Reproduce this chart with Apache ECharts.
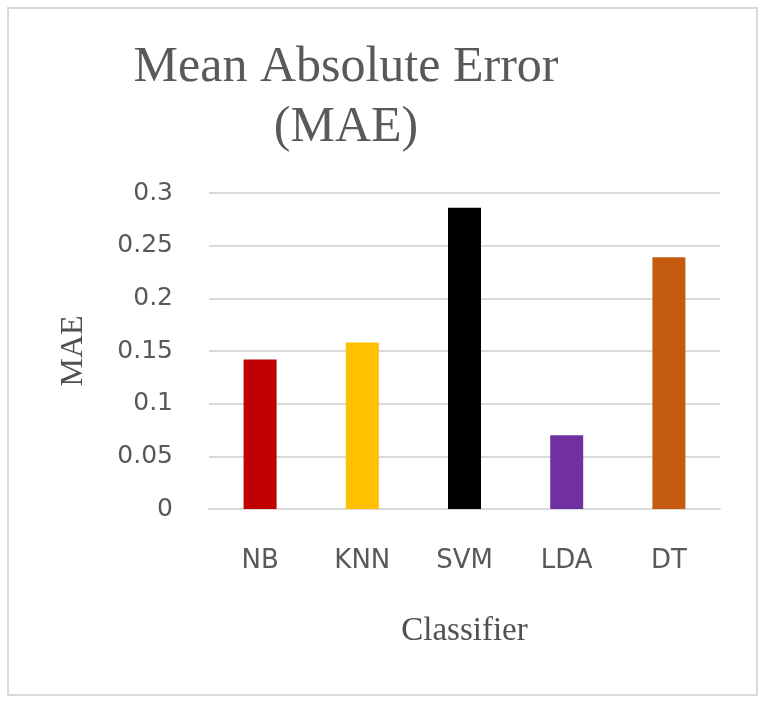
<!DOCTYPE html>
<html><head><meta charset="utf-8">
<script src="https://cdn.jsdelivr.net/npm/echarts@6/dist/echarts.min.js"></script>
<style>html,body{margin:0;padding:0;background:#fff}#c{width:768px;height:703px}</style>
</head><body><div id="c"></div>
<script>
const categories = ["NB", "KNN", "SVM", "LDA", "DT"];
const maeValues = [0.142, 0.158, 0.286, 0.070, 0.239];
const barColors = ["#C00000", "#FFC000", "#000000", "#7030A0", "#C55A11"];
const yTicks = {min: 0, max: 0.3, interval: 0.05};

const chart = echarts.init(document.getElementById('c'));
chart.setOption({
  animation: false,
  graphic: [{type: 'rect', shape: {x: 8, y: 8, width: 749, height: 687}, style: {fill: 'none', stroke: '#d9d9d9', lineWidth: 2}, silent: true}],
  title: {
    text: 'Mean Absolute Error\n(MAE)', left: 341, top: 33, textAlign: 'center',
    textStyle: {fontFamily: 'Liberation Serif', fontSize: 50, fontWeight: 'normal', color: '#595959', lineHeight: 60}
  },
  grid: {left: 209, right: 48, top: 193, bottom: 194},
  xAxis: {
    type: 'category', data: categories,
    axisTick: {show: false},
    axisLine: {lineStyle: {color: '#d9d9d9', width: 2}},
    axisLabel: {margin: 39, fontFamily: 'DejaVu Sans', fontSize: 26, color: '#595959'},
    name: 'Classifier', nameLocation: 'middle', nameGap: 106,
    nameTextStyle: {fontFamily: 'Liberation Serif', fontSize: 33, color: '#505050'}
  },
  yAxis: {
    type: 'value', min: yTicks.min, max: yTicks.max, interval: yTicks.interval,
    axisLine: {show: false}, axisTick: {show: false},
    splitLine: {lineStyle: {color: '#d9d9d9', width: 2}},
    axisLabel: {margin: 36, fontFamily: 'DejaVu Sans', fontSize: 25, color: '#595959'},
    name: 'MAE', nameLocation: 'middle', nameGap: 119,
    nameTextStyle: {fontFamily: 'Liberation Serif', fontSize: 32, color: '#505050'}
  },
  series: [{
    type: 'bar', barWidth: 33,
    data: maeValues.map((v, i) => ({value: v, itemStyle: {color: barColors[i]}}))
  }]
});
</script></body></html>
